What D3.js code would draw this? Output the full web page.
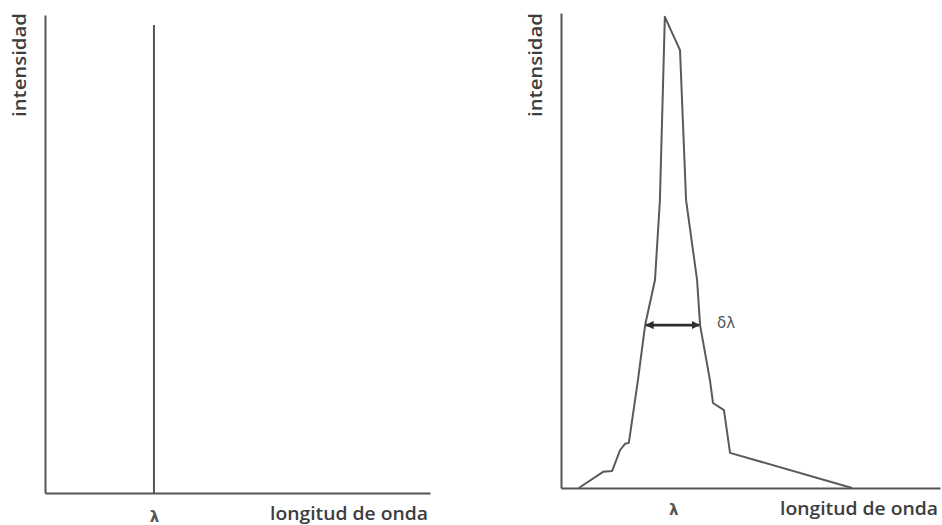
<!DOCTYPE html>
<html>
<head>
<meta charset="utf-8">
<script src="https://cdn.jsdelivr.net/npm/d3@7"></script>
<style>
  body { margin: 0; background: #fff; }
  svg { display: block; }
  .lbl { font-family: "Open Sans", sans-serif; font-weight: 600; fill: #3d3d3d; }
</style>
</head>
<body>
<svg width="942" height="525"></svg>
<script>
// ideal line: one wavelength, full intensity
const lineLambda = [28.3];
const lineIntensity = [97.9];

const peakX = [4.7, 11.1, 13.5, 15.6, 16.9, 17.9, 20.3, 22.2, 24.8, 26.1, 27.4, 31.4, 33.0, 35.9, 36.7, 39.3, 40.1, 43.0, 44.6, 76.8];
const peakY = [0, 3.4, 3.6, 8.0, 9.3, 9.5, 22.7, 34.3, 43.8, 60.6, 99.2, 92.2, 60.6, 43.8, 34.3, 22.7, 17.9, 16.4, 7.4, 0];

// width at half height
const widthX = [22.2, 36.7];
const widthY = 34.3;

const xTicksLeft = [28.3];
const xTicksRight = [29.6];
const tickText = 'λ';
const xTitle = 'longitud de onda';
const yTitle = 'intensidad';
const widthText = 'δλ';

const svg = d3.select('svg');

svg.append('defs').append('marker')
    .attr('id', 'head')
    .attr('viewBox', '0 0 10 10')
    .attr('refX', 9).attr('refY', 5)
    .attr('markerWidth', 3.2).attr('markerHeight', 3.2)
    .attr('orient', 'auto-start-reverse')
  .append('path')
    .attr('d', 'M0,0 L10,5 L0,10 Z')
    .attr('fill', '#2e2e2e');

function panel(left, right, top, bottom, ticks, tickPad) {
    const x = d3.scaleLinear().domain([0, 100]).range([left, right]);
    const y = d3.scaleLinear().domain([0, 100]).range([bottom, top]);
    const g = svg.append('g');

    const xa = g.append('g')
        .attr('transform', `translate(0,${bottom})`)
        .call(d3.axisBottom(x).tickValues(ticks).tickSize(0).tickSizeOuter(0).tickFormat(() => tickText).tickPadding(tickPad));
    xa.select('.domain').attr('stroke', '#555').attr('stroke-width', 2);
    xa.selectAll('text').attr('font-family', 'DejaVu Sans, sans-serif').attr('font-size', 15)
        .attr('font-weight', 'bold').attr('fill', '#555');

    const ya = g.append('g')
        .attr('transform', `translate(${left},0)`)
        .call(d3.axisLeft(y).tickValues([]).tickSizeOuter(0));
    ya.select('.domain').attr('stroke', '#555').attr('stroke-width', 2);

    g.append('text').attr('class', 'lbl')
        .attr('x', right - 2).attr('y', bottom + 27)
        .attr('text-anchor', 'end').attr('font-size', 18)
        .attr('textLength', 158).attr('lengthAdjust', 'spacingAndGlyphs')
        .text(xTitle);

    g.append('text').attr('class', 'lbl')
        .attr('transform', `translate(${left - 19},65) rotate(-90)`)
        .attr('text-anchor', 'middle').attr('font-size', 18)
        .attr('textLength', 104).attr('lengthAdjust', 'spacingAndGlyphs')
        .text(yTitle);

    return { g, x, y };
}

// left panel
const p1 = panel(45, 430, 15, 493, xTicksLeft, 18);
p1.g.selectAll('.ideal')
    .data(lineLambda)
    .enter().append('line')
    .attr('x1', d => p1.x(d)).attr('x2', d => p1.x(d))
    .attr('y1', p1.y(0)).attr('y2', (d, i) => p1.y(lineIntensity[i]))
    .attr('stroke', '#555').attr('stroke-width', 2);

// right panel
const p2 = panel(561, 940, 13, 488, xTicksRight, 16);
const profile = peakX.map((v, i) => [v, peakY[i]]);
p2.g.append('path')
    .datum(profile)
    .attr('fill', 'none')
    .attr('stroke', '#5a5a5a')
    .attr('stroke-width', 2)
    .attr('stroke-linejoin', 'round')
    .attr('d', d3.line().x(d => p2.x(d[0])).y(d => p2.y(d[1])));

p2.g.append('line')
    .attr('x1', p2.x(widthX[0]) + 1).attr('x2', p2.x(widthX[1]) - 1)
    .attr('y1', p2.y(widthY)).attr('y2', p2.y(widthY))
    .attr('stroke', '#2e2e2e').attr('stroke-width', 2.6)
    .attr('marker-start', 'url(#head)').attr('marker-end', 'url(#head)');

p2.g.append('text')
    .attr('x', p2.x(widthX[1]) + 17).attr('y', p2.y(widthY) + 3)
    .attr('font-family', 'DejaVu Sans, sans-serif').attr('font-size', 15)
    .attr('fill', '#555')
    .text(widthText);
</script>
</body>
</html>
